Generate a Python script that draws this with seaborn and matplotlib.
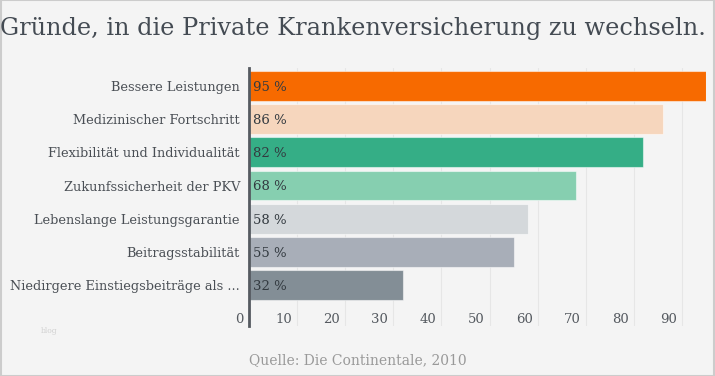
import matplotlib.pyplot as plt
from matplotlib.transforms import ScaledTranslation
from matplotlib.patches import Rectangle
import seaborn as sns
import pandas as pd

reasons = [
    'Bessere Leistungen',
    'Medizinischer Fortschritt',
    'Flexibilität und Individualität',
    'Zukunfssicherheit der PKV',
    'Lebenslange Leistungsgarantie',
    'Beitragsstabilität',
    'Niedirgere Einstiegsbeiträge als ...',
]
shares = [95, 86, 82, 68, 58, 55, 32]
bar_colors = ['#f76a00', '#f6d6bd', '#35ae86', '#86cfb0', '#d4d8db', '#a8aeb8', '#838e96']
x_ticks = [0, 10, 20, 30, 40, 50, 60, 70, 80, 90]

sns.set_theme(style='white')
plt.rcParams['font.family'] = ['DejaVu Serif']

df = pd.DataFrame({'reason': reasons, 'share': shares})

fig = plt.figure(figsize=(7.15, 3.76), dpi=100, facecolor='#f4f4f4')
ax = fig.add_axes([249 / 715, 50 / 376, 457 / 715, 258 / 376])
ax.set_facecolor('#f4f4f4')

sns.barplot(data=df, x='share', y='reason', hue='reason', palette=bar_colors,
            order=reasons, hue_order=reasons, legend=False, width=0.9, saturation=1,
            edgecolor=(1, 1, 1, 0.5), linewidth=0.8, ax=ax, zorder=2)

ax.set_xlim(0, 95)
ax.set_ylim(7.23, -0.54)
ax.set_xticks(x_ticks)
ax.set_xticklabels([str(t) for t in x_ticks])
ax.xaxis.grid(True, color='#e6e6e6', linewidth=0.8, zorder=0)
ax.set_axisbelow(True)
ax.set_xlabel('')
ax.set_ylabel('')

for s in ['top', 'right', 'bottom']:
    ax.spines[s].set_visible(False)
ax.spines['left'].set_color('#555a60')
ax.spines['left'].set_linewidth(2)

ax.tick_params(axis='y', length=0, pad=6.5, labelsize=9.3, labelcolor='#4a4f55')
ax.tick_params(axis='x', length=0, pad=-9.5, labelsize=9.5, labelcolor='#555a60')
shift = ScaledTranslation(-5 / 100, 0, fig.dpi_scale_trans)
for lbl in ax.get_xticklabels():
    lbl.set_horizontalalignment('right')
    lbl.set_transform(lbl.get_transform() + shift)

for i, v in enumerate(shares):
    ax.annotate(f'{v} %', xy=(0, i), xytext=(3, -1), textcoords='offset points',
                ha='left', va='center', fontsize=9.5, color='#333a40', zorder=3)

fig.text(0.493, 0.923, 'Gründe, in die Private Krankenversicherung zu wechseln.',
         ha='center', va='center', fontsize=17.3, color='#444b53')
fig.text(0.501, 0.043, 'Quelle: Die Continentale, 2010', ha='center', va='center',
         fontsize=10, color='#999999')
fig.text(0.069, 0.12, 'blog', ha='center', va='center', fontsize=5.5, color='#d0d0d0')

fig.patches.append(Rectangle((0.0007, 0.0013), 0.9986, 0.9974, transform=fig.transFigure,
                             fill=False, edgecolor='#cccccc', linewidth=1.5))

fig.savefig('out.png', dpi=100, facecolor=fig.get_facecolor())
